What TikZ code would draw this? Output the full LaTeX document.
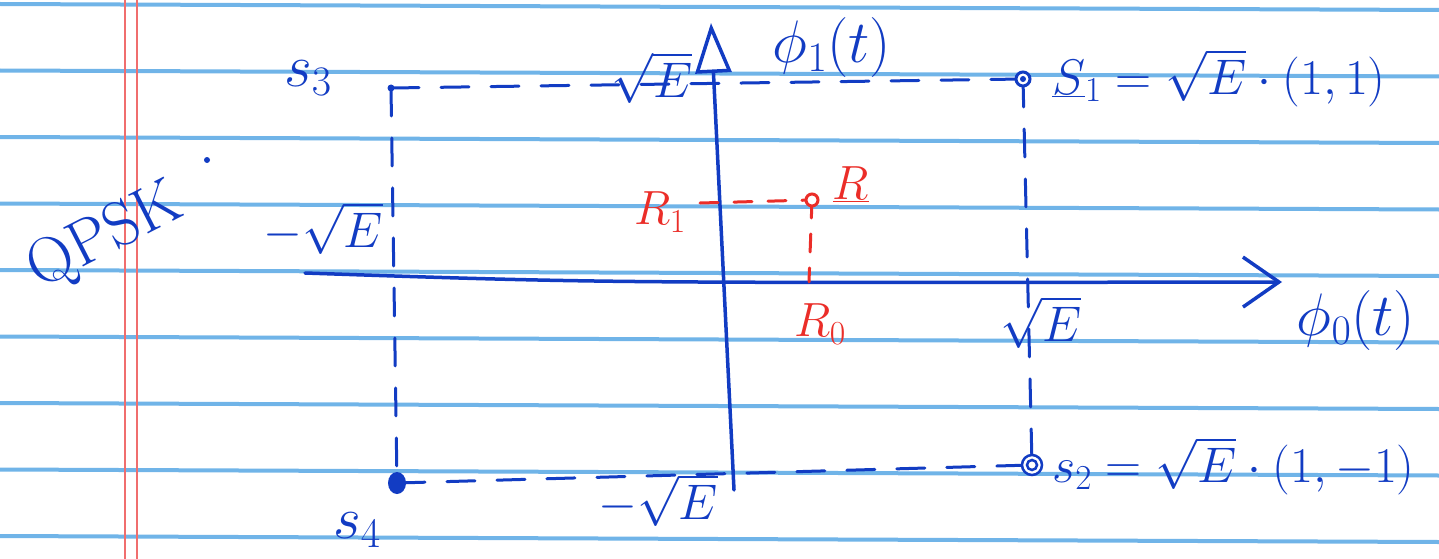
\RequirePackage{fix-cm}
\documentclass[tikz,border=0pt]{standalone}
\usetikzlibrary{arrows.meta}
\definecolor{ink}{RGB}{18,60,195}
\definecolor{redink}{RGB}{235,45,40}
\definecolor{rulecol}{RGB}{112,180,232}
\definecolor{margincol}{RGB}{240,110,110}
\begin{document}
\begin{tikzpicture}[x=1pt,y=-1pt,
  inkline/.style={draw=ink,line width=3.5pt,line cap=round},
  dashink/.style={inkline,line width=3pt,dash pattern=on 28pt off 22pt},
  reddash/.style={draw=redink,line width=3pt,line cap=round,dash pattern=on 18pt off 16pt},
  lab/.style={text=ink,font=\fontsize{50}{56}\selectfont,inner sep=0pt},
  biglab/.style={text=ink,font=\fontsize{60}{66}\selectfont,inner sep=0pt},
  redlab/.style={text=redink,font=\fontsize{48}{52}\selectfont,inner sep=0pt},
]
\useasboundingbox[fill=white] (0,0) rectangle (1439,559);
\foreach \k in {0,...,8} \draw[rulecol,line width=4pt] (0,{4+66.5*\k}) -- (1439,{10+66.5*\k});
\draw[margincol,line width=1.8pt] (125,0) -- (125,559) (137,0) -- (137,559);

\coordinate (s1) at (1023,79);
\coordinate (s2) at (1032,465);
\coordinate (s3) at (391,88);
\coordinate (s4) at (397,483);
\coordinate (r) at (812,200);
\coordinate (r0) at (809,282);
\coordinate (r1e) at (700,203);
\coordinate (h0) at (305,273);
\coordinate (h1) at (1282,282);
\coordinate (v0) at (734,490);
\coordinate (v1) at (711,23);

% axes
\draw[inkline,-{Straight Barb[length=36pt,width=50pt]}] (h0) .. controls (600,283) .. (h1);
\draw[inkline,-{Triangle[open,length=50pt,width=36pt]}] (v0) -- (v1);

% dashed guide lines
\draw[dashink] (s3) -- (s1);
\draw[dashink] (s3) -- (s4);
\draw[dashink] (s1) -- (s2);
\draw[dashink] (s4) -- (s2);
\draw[reddash] (r1e) -- (r);
\draw[reddash] (r) -- (r0);

% points
\fill[ink] (s3) circle (3.5pt);
\draw[ink,line width=3pt,fill=white] (s1) circle (7pt);
\fill[ink] (s1) circle (3pt);
\draw[ink,line width=2.5pt,fill=white] (s2) circle (10pt);
\draw[ink,line width=2.5pt] (s2) circle (5pt);
\fill[ink] (s4) ellipse (9pt and 11pt);
\draw[redink,line width=3pt,fill=white] (r) circle (6pt);

% labels
\node[biglab] (ls3) at (308,78) {$s_3$};
\node[biglab] (ls4) at (357,530) {$s_4$};
\node[lab] (ltop) at (652,78) {$\sqrt{E}$};
\node[lab] (lleft) at (323,228) {$-\sqrt{E}$};
\node[lab] (lright) at (1041,322) {$\sqrt{E}$};
\node[lab] (lbot) at (658,500) {$-\sqrt{E}$};
\node[biglab] (lphi1) at (832,48) {$\phi_1(t)$};
\node[biglab] (lphi0) at (1356,320) {$\phi_0(t)$};
\node[lab,anchor=west] (ls1) at (1052,78) {$\underline{S}_1=\sqrt{E}\cdot(1,1)$};
\node[lab,anchor=west] (ls2) at (1052,466) {$s_2=\sqrt{E}\cdot(1,-1)$};
\node[redlab] (lr) at (851,184) {$\underline{R}$};
\node[redlab] (lr1) at (660,212) {$R_1$};
\node[redlab] (lr0) at (820,324) {$R_0$};
\node[text=ink,inner sep=0pt,rotate=27,font=\fontsize{64}{70}\selectfont] (lq) at (106,238) {QPSK};
\fill[ink] (207,160) circle (3pt);
\end{tikzpicture}
\end{document}
